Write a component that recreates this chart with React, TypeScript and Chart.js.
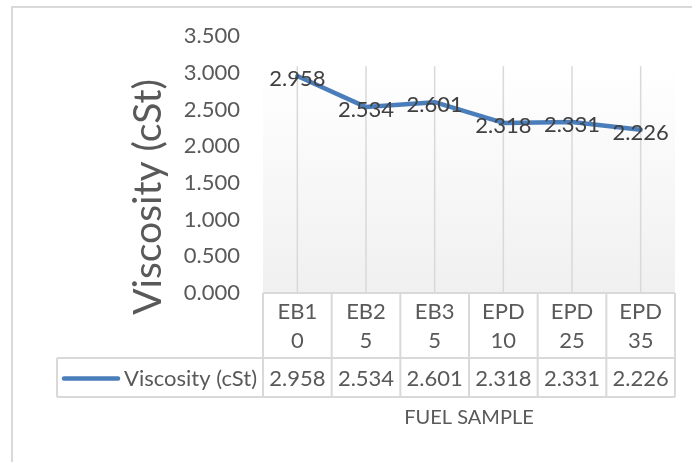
import { useEffect, useRef } from "react";
import { Chart, registerables } from "chart.js";

Chart.register(...registerables);

// ---- data ----
const categories = ["EB10", "EB25", "EB35", "EPD 10", "EPD 25", "EPD 35"];
const categoryTickLines = [
  ["EB1", "0"],
  ["EB2", "5"],
  ["EB3", "5"],
  ["EPD", "10"],
  ["EPD", "25"],
  ["EPD", "35"],
];
const viscosity = [2.958, 2.534, 2.601, 2.318, 2.331, 2.226];
const seriesName = "Viscosity (cSt)";
const yAxisTitle = "Viscosity (cSt)";
const xAxisTitle = "FUEL SAMPLE";
const yMin = 0;
const yMax = 3.5;
const yStep = 0.5;

// ---- styles ----
const FONT = "Lato, 'Open Sans', sans-serif";
const LINE_COLOR = "#4a7ebb";
const TEXT = "#595959";
const LABEL = "#404040";
const GRID = "#d9d9d9";
const FS = 22;

const excelPlugin = {
  id: "excelLook",
  beforeDraw(chart: any) {
    const { ctx, chartArea: a, scales } = chart;
    const x = scales.x;
    ctx.save();
    // outer chart border
    ctx.strokeStyle = GRID;
    ctx.lineWidth = 2;
    ctx.beginPath();
    ctx.moveTo(12, chart.height + 10);
    ctx.lineTo(12, 7);
    ctx.lineTo(chart.width + 10, 7);
    ctx.stroke();
    // plot background gradient
    const bgTop = a.top + 30;
    const g = ctx.createLinearGradient(0, bgTop, 0, a.bottom);
    g.addColorStop(0, "#ffffff");
    g.addColorStop(1, "#f0f0f0");
    ctx.fillStyle = g;
    ctx.fillRect(a.left, bgTop, a.right - a.left, a.bottom - bgTop);
    // vertical gridlines at categories
    ctx.strokeStyle = GRID;
    ctx.lineWidth = 1.5;
    categories.forEach((_, i) => {
      const px = x.getPixelForValue(i);
      ctx.beginPath();
      ctx.moveTo(px, bgTop);
      ctx.lineTo(px, a.bottom);
      ctx.stroke();
    });
    // y axis title
    ctx.translate(148, 197);
    ctx.rotate(-Math.PI / 2);
    ctx.font = `39px ${FONT}`;
    ctx.fillStyle = TEXT;
    ctx.textAlign = "center";
    ctx.textBaseline = "middle";
    ctx.fillText(yAxisTitle, 0, 0);
    ctx.restore();
  },
  afterDatasetsDraw(chart: any) {
    const { ctx } = chart;
    const meta = chart.getDatasetMeta(0);
    ctx.save();
    ctx.font = `${FS}px ${FONT}`;
    ctx.fillStyle = LABEL;
    ctx.textAlign = "center";
    ctx.textBaseline = "middle";
    meta.data.forEach((p: any, i: number) => {
      ctx.fillText(viscosity[i].toFixed(3), p.x, p.y + 3);
    });
    ctx.restore();
  },
  afterDraw(chart: any) {
    const { ctx, chartArea: a } = chart;
    const n = categories.length;
    const w = (a.right - a.left) / n;
    const top = a.bottom;
    const split = top + 65;
    const bottom = split + 39;
    const legendLeft = 57;
    ctx.save();
    ctx.strokeStyle = GRID;
    ctx.lineWidth = 2;
    ctx.beginPath();
    ctx.moveTo(a.left, top);
    ctx.lineTo(a.right, top);
    ctx.moveTo(legendLeft, split);
    ctx.lineTo(a.right, split);
    ctx.moveTo(legendLeft, bottom);
    ctx.lineTo(a.right, bottom);
    for (let k = 0; k <= n; k++) {
      const bx = a.left + k * w;
      ctx.moveTo(bx, top);
      ctx.lineTo(bx, bottom);
    }
    ctx.moveTo(legendLeft, split);
    ctx.lineTo(legendLeft, bottom);
    ctx.stroke();

    const midY = (split + bottom) / 2 + 1;
    ctx.font = `${FS}px ${FONT}`;
    ctx.fillStyle = TEXT;
    ctx.textBaseline = "middle";
    ctx.textAlign = "center";
    viscosity.forEach((v, i) => {
      ctx.fillText(v.toFixed(3), a.left + (i + 0.5) * w, midY);
    });
    // legend key
    ctx.strokeStyle = LINE_COLOR;
    ctx.lineWidth = 4.5;
    ctx.lineCap = "round";
    ctx.beginPath();
    ctx.moveTo(legendLeft + 7, midY);
    ctx.lineTo(legendLeft + 61, midY);
    ctx.stroke();
    ctx.textAlign = "right";
    ctx.fillText(seriesName, a.left - 6, midY);
    ctx.restore();
  },
};

export default function App() {
  const ref = useRef<HTMLCanvasElement | null>(null);
  useEffect(() => {
    document.body.style.margin = "0";
    const canvas = ref.current;
    if (!canvas) return;
    const chart = new Chart(canvas, {
      type: "line",
      data: {
        labels: categoryTickLines as any,
        datasets: [
          {
            label: seriesName,
            data: viscosity,
            borderColor: LINE_COLOR,
            backgroundColor: LINE_COLOR,
            borderWidth: 4.5,
            pointRadius: 0,
            tension: 0,
            borderCapStyle: "round",
            borderJoinStyle: "round",
          },
        ],
      },
      options: {
        responsive: false,
        animation: false,
        devicePixelRatio: 1,
        layout: { padding: { top: 35, right: 17, left: 0, bottom: 0 } },
        plugins: {
          legend: { display: false },
          tooltip: { enabled: false },
        },
        scales: {
          x: {
            type: "category",
            offset: true,
            grid: { display: false, drawTicks: false },
            border: { display: false },
            ticks: {
              font: { family: FONT, size: FS, lineHeight: 29 / FS },
              color: TEXT,
              padding: 4.5,
              maxRotation: 0,
              autoSkip: false,
            },
            title: {
              display: true,
              text: xAxisTitle,
              font: { family: FONT, size: 20 },
              color: TEXT,
              padding: { top: 0, bottom: 32 },
            },
            afterFit: (s: any) => {
              s.height = 169;
            },
          },
          y: {
            min: yMin,
            max: yMax,
            grid: { display: false, drawTicks: false },
            border: { display: false },
            ticks: {
              stepSize: yStep,
              font: { family: FONT, size: FS },
              color: TEXT,
              padding: 23,
              callback: (v: any) => Number(v).toFixed(3),
            },
            afterFit: (s: any) => {
              s.width = 263;
            },
          },
        },
      },
      plugins: [excelPlugin],
    });
    return () => chart.destroy();
  }, []);
  return (
    <canvas ref={ref} width={692} height={462} style={{ display: "block" }} />
  );
}
